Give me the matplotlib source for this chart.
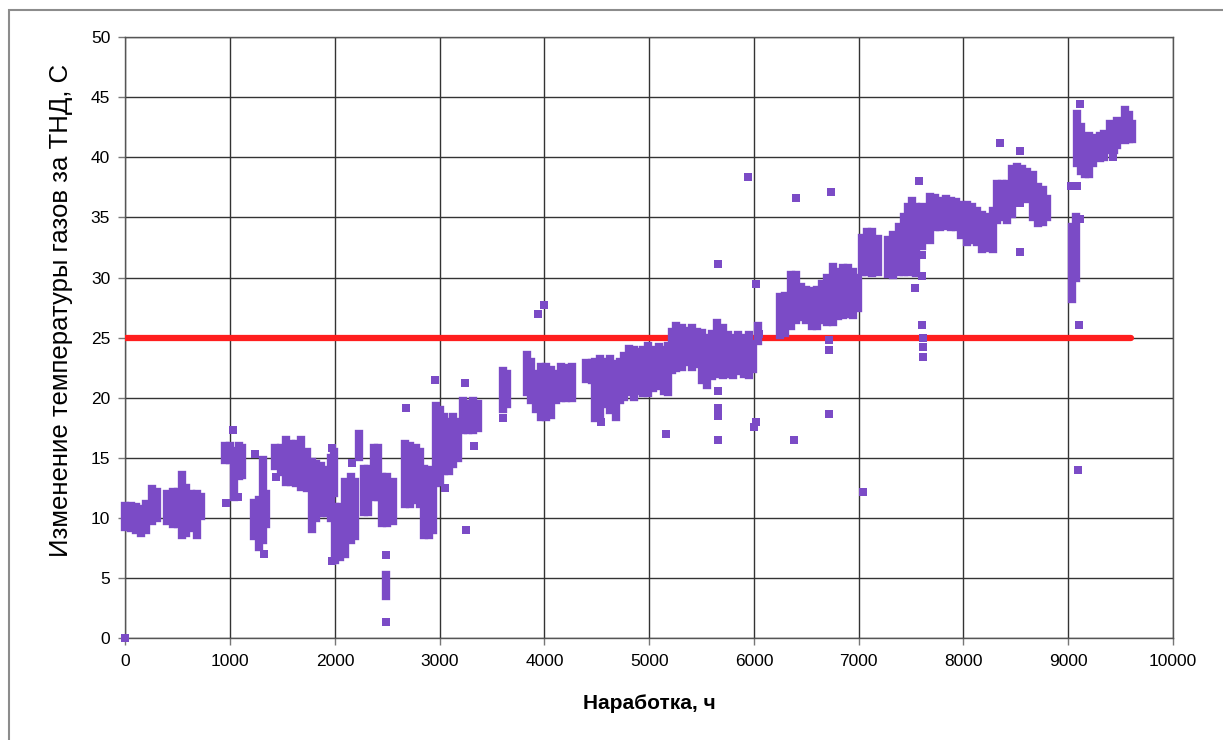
import matplotlib
matplotlib.use('Agg')
import matplotlib.pyplot as plt
from matplotlib.patches import Rectangle

# dense stacks of points, read as (hours, lowest value, highest value)
col_hours = [0, 50, 100, 150, 200, 250, 300,
             400, 450, 500, 540, 580, 630, 680, 720,
             950, 1000, 1040, 1080, 1110,
             1230, 1270, 1310, 1345,
             1430, 1480, 1530, 1580, 1630, 1680, 1730, 1780, 1820, 1870, 1920, 1960, 1990,
             2000, 2050, 2100, 2150, 2190, 2230, 2280, 2320, 2370, 2410, 2450, 2500, 2550, 2490,
             2670, 2720, 2770, 2810, 2850, 2900, 2940, 2960, 3000, 3040, 3090, 3130, 3170,
             3220, 3270, 3320, 3370,
             3600, 3640, 3830, 3870, 3920, 3970, 4010, 4060, 4110, 4160, 4210, 4260,
             4400, 4450, 4480, 4530, 4580, 4630, 4680, 4720, 4760, 4810, 4850, 4890,
             4940, 4990, 5040, 5090, 5140, 5180, 5220, 5260, 5310, 5360, 5410, 5460,
             5500, 5550, 5600, 5650, 5700, 5750, 5800, 5850, 5900, 5950, 5990, 6040,
             6250, 6300, 6350, 6400, 6450, 6500, 6550, 6600, 6650, 6700, 6750, 6800,
             6850, 6900, 6950, 6990,
             7030, 7080, 7130, 7180, 7280, 7330, 7380, 7430, 7470, 7510, 7550, 7600,
             7680, 7730, 7780, 7830, 7880, 7930, 7980, 8030, 8080, 8130, 8180, 8230,
             8280, 8320, 8370, 8420, 8460, 8510, 8560, 8610, 8660, 8710, 8760, 8800,
             9040, 9070, 9080, 9120, 9160, 9200, 9240, 9300, 9340, 9400, 9440, 9470,
             9540, 9580, 9610]
col_low = [9.3, 9.2, 9.0, 8.8, 9.0, 9.8, 10.0,
           9.8, 9.5, 9.5, 8.6, 8.8, 9.2, 8.6, 10.2,
           14.8, 14.8, 11.8, 13.5, 13.6,
           8.5, 7.6, 8.2, 9.5,
           14.3, 13.8, 13.0, 13.0, 12.9, 12.6, 12.5, 9.1, 10.0, 10.4, 10.4, 10.0, 12.1,
           6.5, 6.8, 7.0, 8.2, 8.5, 15.1, 10.5, 10.5, 11.8, 11.8, 9.6, 9.6, 9.8, 3.5,
           11.2, 11.2, 11.5, 11.2, 8.6, 8.6, 9.0, 12.9, 13.0, 13.9, 13.9, 14.5, 15.0,
           17.3, 17.3, 17.3, 17.5,
           19.1, 19.5, 20.5, 19.8, 19.1, 18.4, 18.4, 18.6, 19.8, 20.0, 20.0, 20.0,
           21.6, 21.5, 18.3, 18.5, 19.5, 19.0, 18.4, 19.8, 20.1, 20.5, 20.1, 20.6,
           20.4, 20.4, 20.8, 21.0, 20.6, 20.5, 22.3, 22.5, 22.6, 23.0, 22.6, 22.8,
           21.5, 21.1, 21.8, 22.0, 21.9, 22.0, 21.9, 22.2, 22.0, 21.9, 22.4, 24.7,
           25.2, 25.4, 26.0, 26.5, 26.7, 26.5, 26.0, 26.0, 26.5, 26.3, 26.3, 26.8,
           26.9, 27.0, 26.9, 27.5,
           30.5, 30.5, 30.4, 30.5, 30.3, 30.2, 30.5, 30.5, 30.5, 31.0, 30.4, 32.6,
           33.1, 34.2, 34.2, 34.3, 34.2, 34.2, 33.5, 33.0, 33.1, 33.0, 32.4, 32.5,
           32.4, 34.8, 35.0, 34.8, 35.3, 36.5, 36.7, 36.5, 35.0, 34.5, 34.6, 35.0,
           28.2, 30.0, 39.5, 38.9, 38.6, 38.6, 39.5, 39.9, 40.0, 40.6, 40.6, 41.0,
           41.4, 41.5, 41.5]
col_high = [11.0, 11.0, 10.9, 10.8, 11.2, 12.4, 12.2,
            12.0, 12.2, 12.2, 13.6, 12.5, 12.0, 12.0, 11.8,
            16.0, 16.0, 15.6, 16.0, 15.8,
            11.3, 11.5, 14.8, 12.0,
            15.8, 15.8, 16.5, 16.2, 16.2, 16.5, 15.5, 14.7, 14.5, 14.3, 14.0, 15.0, 15.5,
            10.9, 10.9, 13.0, 13.4, 13.0, 17.0, 14.1, 14.1, 15.8, 15.8, 13.4, 13.4, 13.0, 5.3,
            16.2, 16.0, 15.8, 15.5, 14.1, 14.0, 13.5, 19.3, 19.0, 18.4, 18.0, 18.4, 18.0,
            19.7, 19.5, 19.7, 19.5,
            22.2, 22.0, 23.6, 23.0, 22.0, 22.6, 22.6, 22.3, 22.0, 22.6, 22.5, 22.6,
            22.9, 22.9, 23.0, 23.2, 23.0, 23.2, 22.8, 23.0, 23.5, 24.1, 24.0, 23.8,
            24.0, 24.3, 24.0, 24.2, 24.0, 24.3, 25.5, 26.0, 25.8, 25.6, 25.8, 25.5,
            25.4, 25.0, 25.3, 26.2, 25.8, 25.2, 25.0, 25.2, 25.0, 25.2, 24.5, 26.0,
            28.4, 28.5, 30.2, 30.2, 29.2, 29.0, 28.9, 29.0, 29.5, 30.0, 30.9, 30.5,
            30.8, 30.8, 30.5, 30.0,
            33.3, 33.8, 33.8, 33.2, 33.1, 33.5, 34.2, 35.0, 35.9, 36.4, 35.9, 35.9,
            36.7, 36.6, 36.4, 36.5, 36.4, 36.3, 36.0, 36.0, 35.9, 35.5, 35.2, 35.0,
            35.5, 37.8, 37.8, 37.8, 39.0, 39.2, 39.0, 38.8, 38.5, 37.5, 37.3, 36.5,
            34.2, 35.0, 43.6, 42.5, 41.5, 41.8, 41.6, 41.8, 41.9, 42.8, 42.5, 43.0,
            43.9, 43.5, 42.8]

# separate single points
dot_hours = [0, 960, 1030, 1070, 1240, 1325, 1440, 1975, 1970, 2160, 2490, 2490,
             2680, 2955, 3050, 3255, 3240, 3330, 3600, 3935, 4000, 4540, 5160,
             5660, 5660, 5660, 5660, 5660, 5945, 6015, 6020, 6000, 6050, 6400, 6380,
             6740, 6720, 6720, 6720, 7040, 7580, 7535, 7600, 7600, 7600, 7610, 7610,
             7610, 8350, 8540, 8540, 8540, 9030, 9080, 9110, 9110, 9100, 9090, 9430]
dot_values = [0.0, 11.3, 17.3, 11.8, 15.3, 7.0, 13.4, 15.8, 6.4, 14.6, 6.9, 1.4,
              19.2, 21.5, 12.5, 9.0, 21.2, 16.0, 18.3, 27.0, 27.7, 18.0, 17.0,
              31.1, 20.6, 19.2, 18.5, 16.5, 38.4, 29.5, 18.0, 17.6, 25.3, 36.6, 16.5,
              37.1, 24.8, 24.0, 18.7, 12.2, 38.0, 29.1, 31.9, 30.1, 26.1, 25.0, 24.2,
              23.4, 41.2, 40.5, 36.2, 32.1, 37.6, 37.6, 34.9, 44.4, 26.1, 14.0, 40.0]

# limit line
limit_hours = [0, 9600]
limit_values = [25, 25]

purple = '#7b4bc6'

fig = plt.figure(figsize=(12.23, 7.40), dpi=100)
ax = fig.add_axes([0.1026, 0.1372, 0.8565, 0.8128])

# grey frame of the chart area
fig.patches.append(Rectangle((0.0072, -0.1), 1.2, 0.1 + 0.9865, transform=fig.transFigure,
                             fill=False, edgecolor='#8c8c8c', linewidth=1.5))

ax.plot(limit_hours, limit_values, color='#ff1e1e', linewidth=4.5,
        solid_capstyle='round', zorder=3)

lc = ax.vlines(col_hours, col_low, col_high, color=purple, linewidth=6, zorder=4, clip_on=False)
lc.set_capstyle('projecting')
ax.scatter(dot_hours, dot_values, marker='s', s=28, color=purple, linewidths=0,
           zorder=4, clip_on=False)

ax.set_xlim(0, 10000)
ax.set_ylim(0, 50)
ax.set_xticks(range(0, 10001, 1000))
ax.set_yticks(range(0, 51, 5))
ax.grid(True, color='#333333', linewidth=1.0, zorder=1)
ax.set_axisbelow(True)
for s in ax.spines.values():
    s.set_color('#555555')
    s.set_linewidth(1.0)
ax.tick_params(direction='out', length=5, width=1, color='#777777',
               labelsize=12.5, pad=6)
for lab in ax.get_xticklabels() + ax.get_yticklabels():
    lab.set_family('Liberation Sans')

ax.set_xlabel('Наработка, ч', fontsize=15, fontweight='bold', family='Liberation Sans',
              labelpad=18)
ax.set_ylabel('Изменение температуры газов за ТНД, С', fontsize=18.5, family='Liberation Sans')
ax.yaxis.set_label_coords(-0.050, 0.545)

fig.savefig('out.png', dpi=100)
